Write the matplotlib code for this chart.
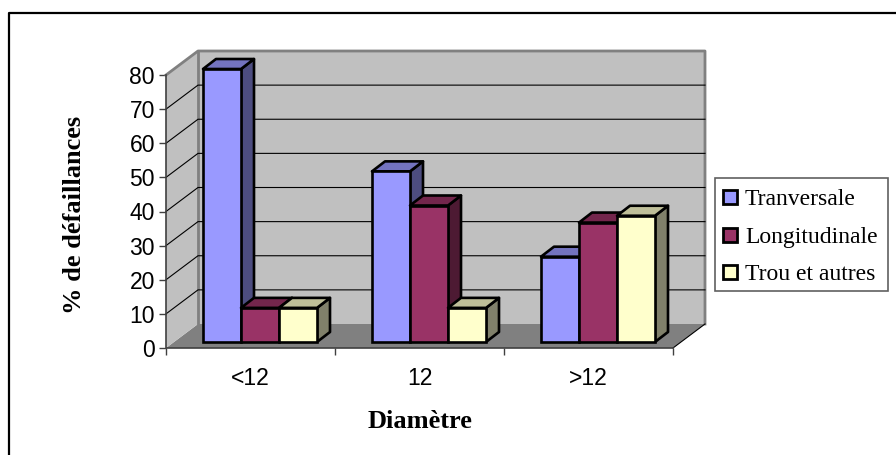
import matplotlib
matplotlib.use("Agg")
import matplotlib.pyplot as plt
from matplotlib.patches import Polygon, Rectangle
from matplotlib.lines import Line2D

categories = ["<12", "12", ">12"]
series_names = ["Tranversale", "Longitudinale", "Trou et autres"]
tranversale = [80, 50, 25]
longitudinale = [10, 40, 35]
trou_autres = [10, 10, 37]
series = [tranversale, longitudinale, trou_autres]
y_ticks = [0, 10, 20, 30, 40, 50, 60, 70, 80]
front_colors = ["#9999FF", "#993366", "#FFFFCC"]
top_colors = ["#7373BF", "#73264C", "#BFBF99"]
side_colors = ["#4D4D80", "#4D1A33", "#80806A"]

W, H = 896, 455
fig = plt.figure(figsize=(W / 100, H / 100), dpi=100)
fig.patch.set_facecolor("white")
fig.add_artist(Line2D([9 / W, 9 / W, 1], [0, 1 - 12.5 / H, 1 - 12.5 / H], transform=fig.transFigure,
                      color="black", lw=1.6, zorder=-1))

L, R, B, T = 166, 673, 348, 75
ax = fig.add_axes([L / W, 1 - B / H, (R - L) / W, (B - T) / H])
ax.set_xlim(0, 3)
ax.set_ylim(0, 80)
ax.patch.set_visible(False)
for s in ax.spines.values():
    s.set_visible(False)

ux = (R - L) / 3       # pixels per category
uy = (B - T) / 80      # pixels per value unit
depth_x, depth_y = 32 / ux, 24 / uy
top = 80
wall = "#C0C0C0"
edge = "#808080"

# floor, side wall, back wall
ax.add_patch(Polygon([(0, 0), (3, 0), (3 + depth_x, depth_y), (depth_x, depth_y)], fc="#808080", ec="none", clip_on=False, zorder=1))
ax.add_patch(Polygon([(0, 0), (depth_x, depth_y), (depth_x, top + depth_y), (0, top)], fc=wall, ec="none", clip_on=False, zorder=1))
ax.add_patch(Polygon([(depth_x, depth_y), (3 + depth_x, depth_y), (3 + depth_x, top + depth_y), (depth_x, top + depth_y)], fc=wall, ec="none", clip_on=False, zorder=1))
ax.add_line(Line2D([0, depth_x, 3 + depth_x, 3 + depth_x], [top, top + depth_y, top + depth_y, depth_y], color=edge, lw=2, clip_on=False, zorder=2))
ax.add_line(Line2D([depth_x, depth_x], [depth_y, top + depth_y], color=edge, lw=2, clip_on=False, zorder=2))
ax.add_line(Line2D([3, 3 + depth_x], [0, depth_y], color="black", lw=0.8, clip_on=False, zorder=2))
for v in y_ticks[1:-1]:
    ax.add_line(Line2D([0, depth_x, 3 + depth_x], [v, v + depth_y, v + depth_y], color="black", lw=0.8, clip_on=False, zorder=2))

# bars
bar_w = 38 / ux
bar_dx, bar_dy = 13 / ux, 10 / uy
off_x, off_y = 37 / ux, 6 / uy
z = 3
for c in range(len(categories)):
    for k, vals in enumerate(series):
        v = vals[c]
        x0 = c + off_x + k * bar_w
        x1 = x0 + bar_w
        y0, y1 = off_y, off_y + v
        lw = 1.9
        ax.add_patch(Polygon([(x1, y0), (x1 + bar_dx, y0 + bar_dy), (x1 + bar_dx, y1 + bar_dy), (x1, y1)],
                             fc=side_colors[k], ec="black", lw=lw, joinstyle="round", clip_on=False, zorder=z))
        ax.add_patch(Polygon([(x0, y1), (x1, y1), (x1 + bar_dx, y1 + bar_dy), (x0 + bar_dx, y1 + bar_dy)],
                             fc=top_colors[k], ec="black", lw=lw, joinstyle="round", clip_on=False, zorder=z))
        ax.add_patch(Rectangle((x0, y0), bar_w, v, fc=front_colors[k], ec="black", lw=lw, clip_on=False, zorder=z + 0.5))
        z += 1

# axes
ax.add_line(Line2D([0, 0, 3], [80, 0, 0], color="#404040", lw=1.2, clip_on=False, zorder=2))
ax.set_yticks(y_ticks)
ax.set_xticks([0, 1, 2, 3])
ax.set_xticklabels([])
ax.set_xticks([0.5, 1.5, 2.5], minor=True)
ax.set_xticklabels(categories, minor=True, fontsize=16.5, family="Liberation Sans")
ax.tick_params(axis="x", which="major", length=5, width=1, color="#404040", direction="out")
ax.tick_params(axis="x", which="minor", length=0, pad=14)
ax.tick_params(axis="y", length=5, width=1, color="#404040", pad=3)
ax.set_yticklabels([str(v) for v in y_ticks], fontsize=16.5, family="Liberation Sans")

fig.text(74 / W, 1 - 215 / H, "% de défaillances", rotation=90, ha="center", va="center",
         fontsize=19, fontweight="bold", family="Liberation Serif")
fig.text(419.5 / W, 1 - 421 / H, "Diamètre", ha="center", va="center",
         fontsize=19, fontweight="bold", family="Liberation Serif")

# legend
fig.add_artist(Rectangle((714.5 / W, 1 - 290.5 / H), 173 / W, 113 / H, transform=fig.transFigure,
                         fc="white", ec="#606060", lw=1.2))
for i, (name, yc, base) in enumerate(zip(series_names, [197, 234.5, 272], [205, 243, 280])):
    fig.add_artist(Rectangle((723 / W, 1 - (yc + 7) / H), 14 / W, 14 / H, transform=fig.transFigure,
                             fc=front_colors[i], ec="black", lw=2))
    fig.text(745 / W, 1 - base / H, name, ha="left", va="baseline", fontsize=17, family="Liberation Serif")

fig.savefig("out.png", dpi=100)
